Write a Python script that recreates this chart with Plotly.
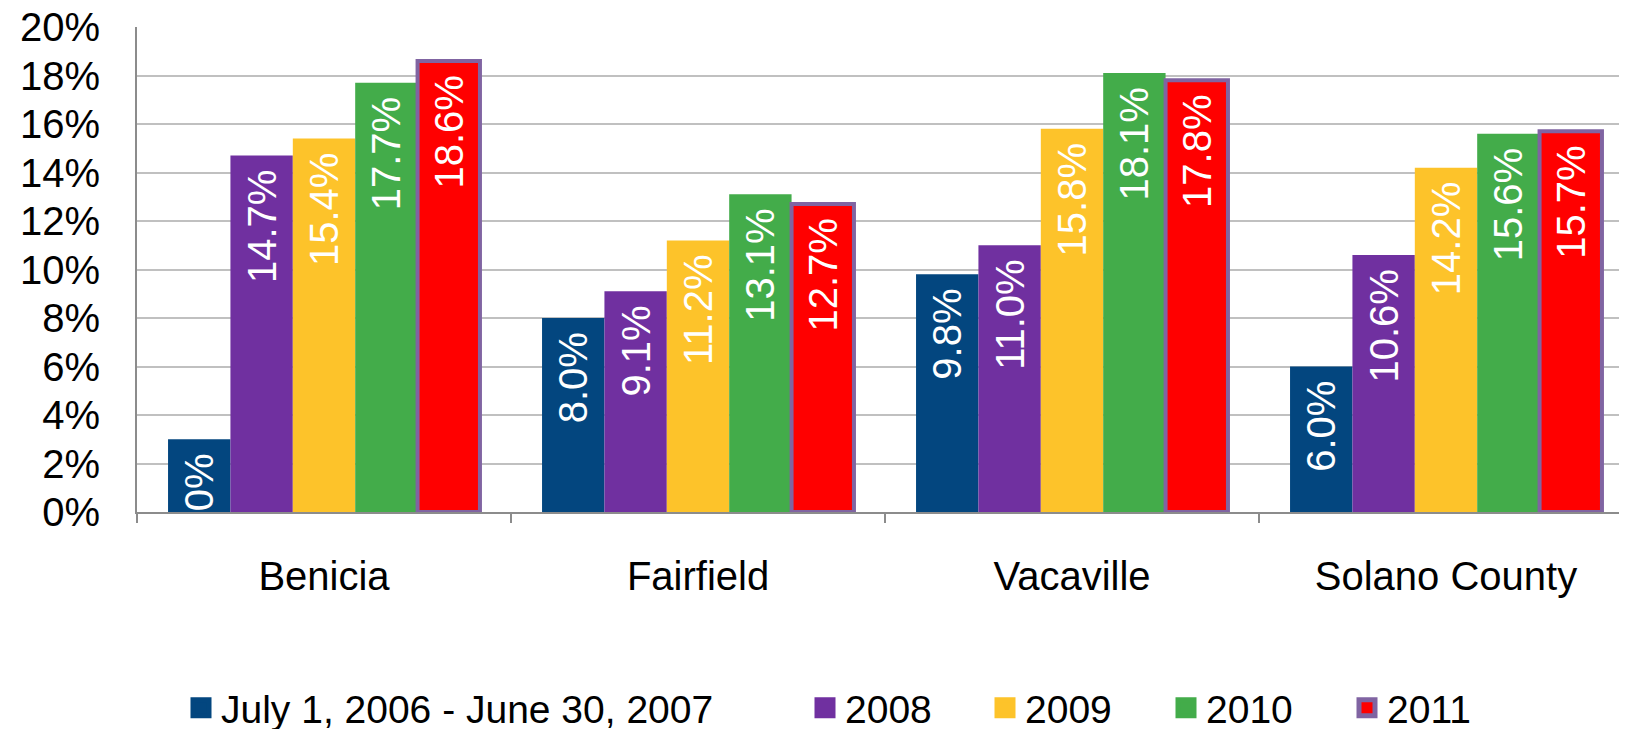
import plotly.graph_objects as go

categories = ["Benicia", "Fairfield", "Vacaville", "Solano County"]
series_names = ["July 1, 2006 - June 30, 2007", "2008", "2009", "2010", "2011"]
v_2007 = [3.0, 8.0, 9.8, 6.0]
v_2008 = [14.7, 9.1, 11.0, 10.6]
v_2009 = [15.4, 11.2, 15.8, 14.2]
v_2010 = [17.7, 13.1, 18.1, 15.6]
v_2011 = [18.6, 12.7, 17.8, 15.7]
y_ticks = [0, 2, 4, 6, 8, 10, 12, 14, 16, 18, 20]
y_tick_labels = [f"{t}%" for t in y_ticks]

series_values = [v_2007, v_2008, v_2009, v_2010, v_2011]
colors = ["#03467F", "#7030A0", "#FDC32A", "#43AC4A", "#FF0000"]
OUTLINE = "#8064A2"
FONT = "Liberation Sans, Arial, sans-serif"

# The page body has an 8px margin, so the figure starts at screen (8, 8).
OFF = 8
W, H = 1627 - 2 * OFF, 737 - 2 * OFF
plot_left, plot_top, plot_bottom = 137, 27, 512      # screen pixels
L = plot_left - OFF
T = plot_top - OFF
B = H - (plot_bottom - OFF)
R = 0
PW = W - L - R
PH = H - T - B
cat_w = 374.0
x_hi = -0.5 + PW / cat_w

legend_left_px = [181, 805, 985, 1166, 1347]   # screen pixels
legend_center_px = 708

fig = go.Figure()
for i, (name, vals, col) in enumerate(zip(series_names, series_values, colors)):
    line = dict(color=OUTLINE, width=4) if i == 4 else dict(width=0)
    fig.add_trace(go.Bar(
        x=categories, y=vals, name=name, showlegend=False,
        marker=dict(color=col, line=line),
        text=[f"{v:.1f}%\u00a0" for v in vals],
        textposition="inside", insidetextanchor="end", textangle=-90,
        constraintext="none",
        textfont=dict(family=FONT, size=40, color="white"),
        cliponaxis=True,
    ))

legend_layouts = {}
for i, (name, col) in enumerate(zip(series_names, colors)):
    lname = "legend" if i == 0 else f"legend{i + 1}"
    mline = dict(color=OUTLINE, width=5) if i == 4 else dict(color=col, width=5)
    fig.add_trace(go.Scatter(
        x=[None], y=[None], mode="markers", name=name, showlegend=True,
        legend=lname,
        marker=dict(symbol="square", size=30, color=col, line=mline),
    ))
    legend_layouts[lname] = dict(
        orientation="h", x=(legend_left_px[i] - plot_left) / PW, xanchor="left",
        y=-(legend_center_px - plot_bottom) / PH, yanchor="middle",
        font=dict(family=FONT, size=39, color="black"),
        itemwidth=30, bgcolor="rgba(0,0,0,0)", borderwidth=0,
    )

fig.update_layout(
    width=W, height=H,
    margin=dict(l=L, r=R, t=T, b=B, autoexpand=False),
    paper_bgcolor="white", plot_bgcolor="white",
    barmode="group", bargap=0.166, bargroupgap=0,
    font=dict(family=FONT, size=40, color="black"),
    showlegend=True,
    xaxis=dict(
        range=[-0.5, x_hi],
        showline=True, linecolor="#8C8C8C", linewidth=2,
        ticks="outside", tickson="boundaries", ticklen=9,
        tickcolor="#8C8C8C", tickwidth=1.5,
        tickfont=dict(family=FONT, size=40, color="black"),
        ticklabelstandoff=28, automargin=False,
        showgrid=False,
    ),
    yaxis=dict(
        range=[0, 20], tickmode="array", tickvals=y_ticks, ticktext=y_tick_labels,
        showline=True, linecolor="#8C8C8C", linewidth=2,
        showgrid=True, gridcolor="#C0C0C0", gridwidth=1.5,
        zeroline=False, automargin=False, ticklabeloverflow="allow",
        tickfont=dict(family=FONT, size=40, color="black"),
        ticklabelstandoff=27,
    ),
    **legend_layouts,
)

fig.write_html("out.html")
